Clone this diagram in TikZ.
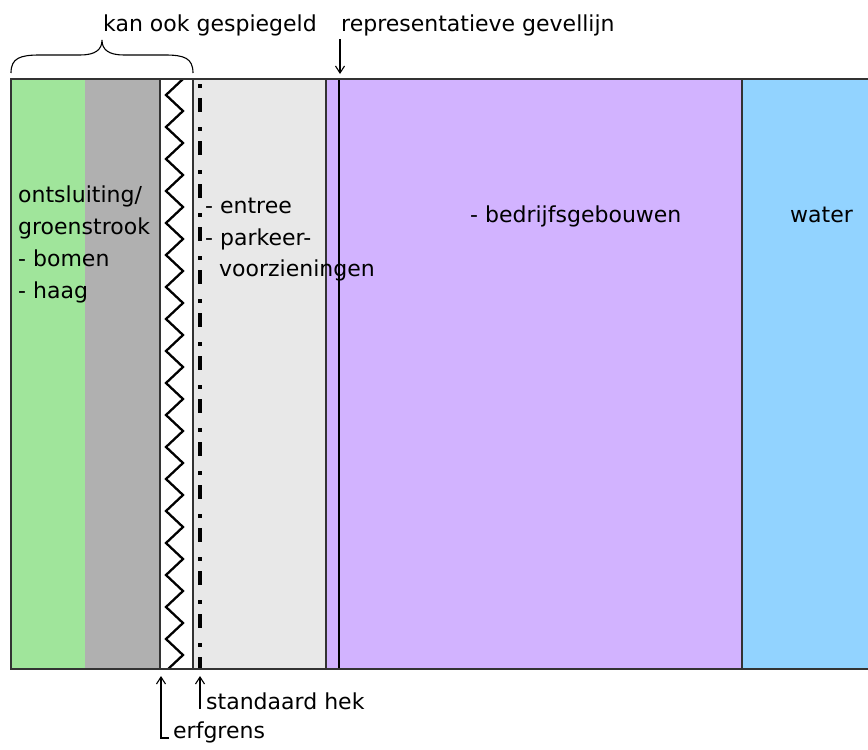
\documentclass[tikz,border=0pt]{standalone}
\usepackage{fontspec}
\newfontfamily\hand{DejaVu Sans}
\usetikzlibrary{arrows.meta}
\definecolor{groen}{HTML}{A0E59B}
\definecolor{grijs}{HTML}{B0B0B0}
\definecolor{lichtgrijs}{HTML}{E8E8E8}
\definecolor{paars}{HTML}{D2B3FF}
\definecolor{blauw}{HTML}{92D3FF}
\definecolor{rand}{HTML}{333333}
\tikzset{
  band/.style={anchor=north west, inner sep=0pt, outer sep=0pt,
    minimum height=590pt},
  lbl/.style={font=\hand\fontsize{22}{30}\selectfont, text=black,
    inner sep=0pt, anchor=base west},
  randlijn/.style={draw=rand, line width=2pt},
  pijl/.style={-{Straight Barb[length=7pt,width=9pt]}, line width=1.1pt},
  zigzag/.style={line width=2.3pt, line join=miter},
  hek/.style={line width=4.4pt, line cap=butt,
    dash pattern=on 4pt off 10pt on 14pt off 15pt, dash phase=-5pt},
}
\begin{document}
\begin{tikzpicture}[x=1pt, y=-1pt]
\useasboundingbox (0,0) rectangle (868,750);

% strook-indeling van het profiel
\node[band, fill=groen, minimum width=74pt] (groenstrook) at (11,79) {};
\node[band, fill=grijs, minimum width=75pt] (grijsstrook) at (85,79) {};
\node[band, fill=white, minimum width=33pt] (erfstrook) at (160,79) {};
\node[band, fill=lichtgrijs, minimum width=133pt] (voorterrein) at (193,79) {};
\node[band, fill=paars, minimum width=416pt] (bedrijf) at (326,79) {};
\node[band, fill=blauw, minimum width=130pt] (water) at (742,79) {};

% haag als zigzaglijn in de erfstrook
\begin{scope}
  \clip (erfstrook.north west) rectangle (erfstrook.south east);
  \draw[zigzag] (183,79) \foreach \k in {1,...,38} {
    -- ({174.5+8.5*cos(180*\k)},{79+16*\k}) };
\end{scope}

% standaard hek
\draw[hek] (200,79) -- (200,669);

% scheidingslijnen en kader
\draw[draw=rand, line width=1.3pt] (erfstrook.north east) -- (erfstrook.south east);
\draw[randlijn] (grijsstrook.north east) -- (grijsstrook.south east);
\draw[randlijn] (voorterrein.north east) -- (voorterrein.south east);
\draw[draw=rand, line width=2.8pt] (water.north west) -- (water.south west);
\draw[line width=1.4pt] (339,79) coordinate (gevel) -- (339,669);
\draw[randlijn] (water.north east) -- (groenstrook.north west)
  -- (groenstrook.south west) -- (water.south east);

% teksten in de stroken
\node[lbl] (t1) at (18,202) {ontsluiting/};
\node[lbl] (t2) at (18,234) {groenstrook};
\node[lbl] (t3) at (18,266) {- bomen};
\node[lbl] (t4) at (18,298) {- haag};
\node[lbl] (e1) at (205,213) {- entree};
\node[lbl] (e2) at (205,245) {- parkeer-};
\node[lbl] (e3) at (219,276) {voorzieningen};
\node[lbl] (bg) at (470,222) {- bedrijfsgebouwen};
\node[lbl] (wt) at (790,222) {water};

% bovenschrift met accolade
\node[lbl] (spiegel) at (103,31) {kan ook gespiegeld};
\node[lbl] (gevellijn) at (341,31) {representatieve gevellijn};
\coordinate (bl) at (11,73);
\coordinate (br) at (193,73);
\coordinate (bt) at (102,40);
\draw[line width=1.1pt] (bl) .. controls (11,58) and (20,55) .. (40,55)
  -- (80,55) .. controls (95,55) and (102,50) .. (bt)
  .. controls (102,50) and (109,55) .. (124,55)
  -- (165,55) .. controls (184,55) and (193,58) .. (br);
\coordinate (gevelvoet) at (340,39);
\draw[pijl] (gevelvoet) -- (340,74);

% onderschrift met pijlen
\node[lbl] (hektekst) at (206,709) {standaard hek};
\node[lbl] (erfgrens) at (173,738) {erfgrens};
\coordinate (hektip) at (200,676);
\coordinate (erftip) at (161,676);
\draw[pijl] ([xshift=-6pt]hektekst.base west) -- (hektip);
\draw[pijl] ([xshift=-4pt]erfgrens.base west) -| (erftip);
\end{tikzpicture}
\end{document}
